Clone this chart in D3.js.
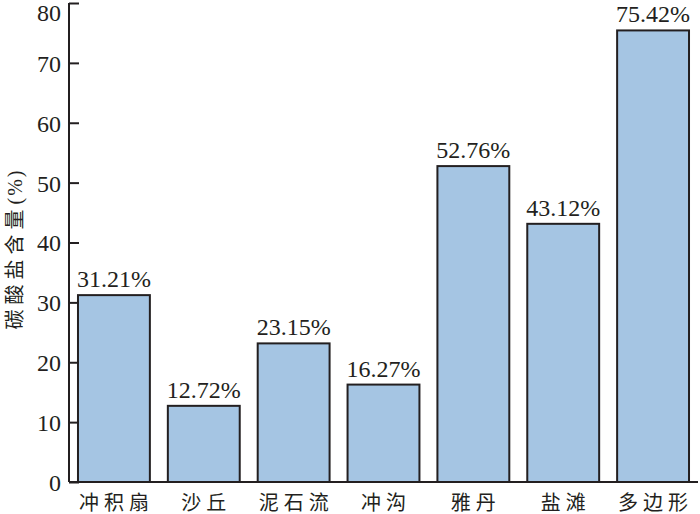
<!DOCTYPE html>
<html><head><meta charset="utf-8">
<script src="https://d3js.org/d3.v7.min.js"></script>
<style>body{margin:0;background:#fff}</style>
</head><body>
<svg id="c" width="700" height="514"></svg>
<script>
const categories = ["冲积扇","沙丘","泥石流","冲沟","雅丹","盐滩","多边形"];
const values = [31.21, 12.72, 23.15, 16.27, 52.76, 43.12, 75.42];
const yTicks = [0,10,20,30,40,50,60,70,80];
const yTitleMain = "碳酸盐含量";
const yTitleUnit = "(%)";

const svg = d3.select("#c");
const m = {left:69, right:698, top:3, bottom:482};
const font = "'Liberation Serif','Noto Sans CJK SC',serif";
const x = d3.scaleBand().domain(categories).range([m.left, m.right]).paddingInner(0.2).paddingOuter(0.1);
const y = d3.scaleLinear().domain([0,80]).range([m.bottom, m.top]);

svg.selectAll("rect.bar").data(values).join("rect")
  .attr("class","bar")
  .attr("x",(d,i)=>x(categories[i]))
  .attr("y",d=>y(d))
  .attr("width",x.bandwidth())
  .attr("height",d=>y(0)-y(d))
  .attr("fill","#a5c5e3").attr("stroke","#231f20").attr("stroke-width",2);

svg.selectAll("text.val").data(values).join("text")
  .attr("x",(d,i)=>x(categories[i])+x.bandwidth()/2)
  .attr("y",d=>y(d)-8)
  .attr("text-anchor","middle")
  .attr("font-family",font).attr("font-size",24).attr("fill","#231f20")
  .text(d=>d.toFixed(2)+"%");

const ya = svg.append("g").attr("transform",`translate(${m.left},0)`)
  .call(d3.axisRight(y).tickValues(yTicks).tickSize(10).tickFormat(d3.format("d")));
ya.select(".domain").attr("stroke","#231f20").attr("stroke-width",2).attr("d",`M0,${m.top}V${m.bottom}`);
ya.selectAll(".tick line").attr("stroke","#231f20").attr("stroke-width",2);
ya.selectAll(".tick text").attr("x",-8).attr("text-anchor","end").attr("font-family",font).attr("font-size",24).attr("fill","#231f20")
  .attr("dy",d=>d===80?"0.72em":"0.35em");

svg.append("line").attr("x1",m.left).attr("x2",m.right).attr("y1",y(0)).attr("y2",y(0))
  .attr("stroke","#231f20").attr("stroke-width",2);

svg.selectAll("text.cat").data(categories).join("text")
  .attr("x",d=>x(d)+x.bandwidth()/2+2.5).attr("y",510)
  .attr("text-anchor","middle")
  .attr("font-family",font).attr("font-size",20).attr("fill","#231f20")
  .attr("letter-spacing",5)
  .text(d=>d);

const t = svg.append("text").attr("transform","translate(22,249) rotate(-90)")
  .attr("text-anchor","middle").attr("font-family",font).attr("font-size",20).attr("fill","#231f20");
t.append("tspan").attr("letter-spacing",5).text(yTitleMain);
t.append("tspan").attr("letter-spacing",2).text(yTitleUnit);
</script>
</body></html>
